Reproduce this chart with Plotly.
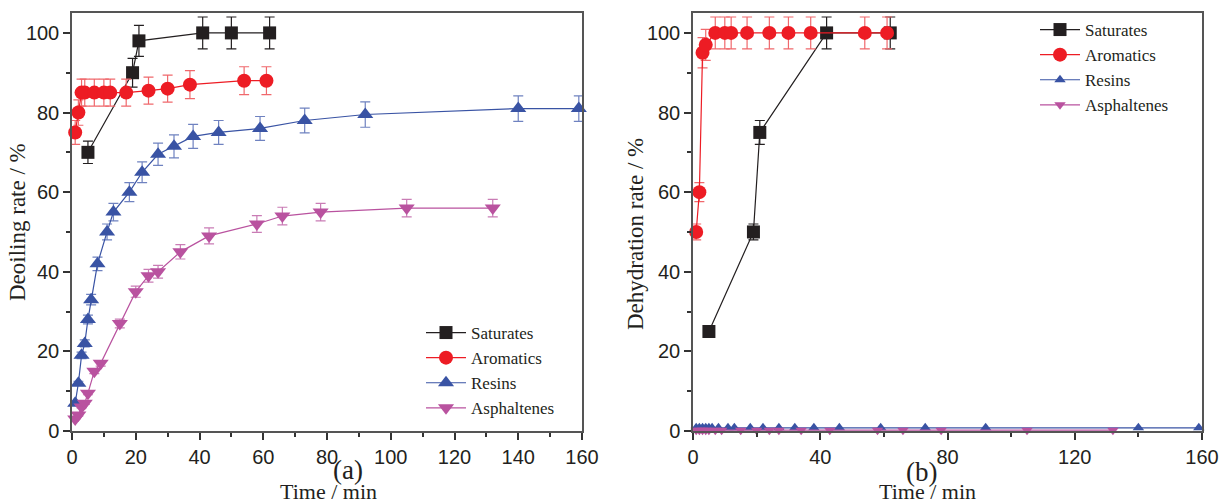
import plotly.graph_objects as go

# ---------------- data ----------------
series_names = ["Saturates", "Aromatics", "Resins", "Asphaltenes"]
colors = ["#231f20", "#ed1c24", "#3953a4", "#b9529f"]
err_colors = ["#231f20", "#f0686c", "#6f82c0", "#c97cb5"]
symbols = ["square", "circle", "triangle-up", "triangle-down"]

# (a) Deoiling rate
sat_t_a = [5, 19, 21, 41, 50, 62]
sat_a = [70, 90, 98, 100, 100, 100]
sat_err_a = [2.8, 3.6, 3.9, 4, 4, 4]

aro_t_a = [1, 2, 3, 4, 7, 10, 12, 17, 24, 30, 37, 54, 61]
aro_a = [75, 80, 85, 85, 85, 85, 85, 85, 85.5, 86, 87, 88, 88]
aro_err_a = [3, 3.2, 3.4, 3.4, 3.4, 3.4, 3.4, 3.4, 3.4, 3.4, 3.5, 3.5, 3.5]

res_t_a = [1, 2, 3, 4, 5, 6, 8, 11, 13, 18, 22, 27, 32, 38, 46, 59, 73, 92, 140, 159]
res_a = [7, 12, 19, 22, 28, 33, 42, 50, 55, 60, 65, 69.5, 71.5, 74, 75, 76, 78, 79.5, 81, 81]
res_err_a = [0.3, 0.5, 0.8, 0.9, 1.1, 1.3, 1.7, 2, 2.2, 2.4, 2.6, 2.8, 2.9, 3, 3, 3, 3.1, 3.2, 3.2, 3.2]

asp_t_a = [1, 2, 3, 4, 5, 7, 9, 15, 20, 24, 27, 34, 43, 58, 66, 78, 105, 132]
asp_a = [3, 4, 6, 7, 9.5, 15, 17, 27, 35, 39, 40, 45, 49, 52, 54, 55, 56, 56]
asp_err_a = [0.1, 0.2, 0.2, 0.3, 0.4, 0.6, 0.7, 1.1, 1.4, 1.6, 1.6, 1.8, 2, 2.1, 2.2, 2.2, 2.2, 2.2]

# (b) Dehydration rate
sat_t_b = [5, 19, 21, 42, 62]
sat_b = [25, 50, 75, 100, 100]
sat_err_b = [1, 2, 3, 4, 4]

aro_t_b = [1, 2, 3, 4, 7, 10, 12, 17, 24, 30, 37, 54, 61]
aro_b = [50, 60, 95, 97, 100, 100, 100, 100, 100, 100, 100, 100, 100]
aro_err_b = [2, 2.4, 3.8, 3.9, 4, 4, 4, 4, 4, 4, 4, 4, 4]

res_t_b = res_t_a
res_b = [0.8] * len(res_t_b)

asp_t_b = asp_t_a
asp_b = [0.2] * len(asp_t_b)

x_ticks_a = [0, 20, 40, 60, 80, 100, 120, 140, 160]
x_ticks_b = [0, 40, 80, 120, 160]
y_ticks = [0, 20, 40, 60, 80, 100]

# ---------------- figure ----------------
fig = go.Figure()

def add(x, y, err, i, xa, ya, legend, msize):
    kw = {}
    if err is not None:
        kw["error_y"] = dict(type="data", array=err, visible=True,
                             color=err_colors[i], thickness=1.2, width=5)
    fig.add_trace(go.Scatter(
        x=x, y=y, mode="lines+markers", name=series_names[i],
        line=dict(color=colors[i], width=1.2),
        marker=dict(symbol=symbols[i], size=msize, color=colors[i],
                    line=dict(width=0)),
        xaxis=xa, yaxis=ya, legend=legend, showlegend=True,
        cliponaxis=False, **kw))

add(sat_t_a, sat_a, sat_err_a, 0, "x", "y", "legend", 13)
add(aro_t_a, aro_a, aro_err_a, 1, "x", "y", "legend", 14)
add(res_t_a, res_a, res_err_a, 2, "x", "y", "legend", 14)
add(asp_t_a, asp_a, asp_err_a, 3, "x", "y", "legend", 14)

add(sat_t_b, sat_b, sat_err_b, 0, "x2", "y2", "legend2", 13)
add(aro_t_b, aro_b, aro_err_b, 1, "x2", "y2", "legend2", 14)
add(res_t_b, res_b, None, 2, "x2", "y2", "legend2", 10)
add(asp_t_b, asp_b, None, 3, "x2", "y2", "legend2", 10)

tickfont = dict(family="Liberation Sans, Arial", size=20, color="#231f20")
axis_common = dict(showgrid=False, zeroline=False, showline=True, automargin=False,
                   linecolor="#555555", linewidth=1.5, mirror=True,
                   ticks="outside", ticklen=7, tickwidth=1.5, tickcolor="#333333",
                   tickfont=tickfont)

W, H = 1219, 504
TOP, BOT = 13, 431          # plot area in page pixels
PH = BOT - TOP

def px(xr):
    return xr / W

def py(yr):
    return (BOT - yr) / PH

legfont = dict(family="Liberation Serif, Times New Roman", size=17, color="#231f20")

fig.update_layout(
    width=W, height=H, autosize=False,
    margin=dict(l=0, r=0, t=TOP, b=H - BOT, pad=0, autoexpand=False),
    paper_bgcolor="white", plot_bgcolor="white",
    xaxis=dict(domain=[px(72), px(582)], range=[0, 160], tickvals=x_ticks_a,
               minor=dict(dtick=10, ticks="outside", ticklen=4, tickcolor="#333333"),
               **axis_common),
    yaxis=dict(range=[0, 105], tickvals=y_ticks, anchor="x",
               minor=dict(dtick=10, ticks="outside", ticklen=4, tickcolor="#333333"),
               **axis_common),
    xaxis2=dict(domain=[px(693), px(1202)], range=[0, 160], tickvals=x_ticks_b, anchor="y2",
                minor=dict(dtick=20, ticks="outside", ticklen=4, tickcolor="#333333"),
                **axis_common),
    yaxis2=dict(range=[0, 105], tickvals=y_ticks, anchor="x2",
                minor=dict(dtick=10, ticks="outside", ticklen=4, tickcolor="#333333"),
                **axis_common),
    legend=dict(x=px(421), y=py(315), xanchor="left", yanchor="top",
                font=legfont, bgcolor="rgba(0,0,0,0)", tracegroupgap=0, itemwidth=40),
    legend2=dict(x=px(1035), y=py(12), xanchor="left", yanchor="top",
                 font=legfont, bgcolor="rgba(0,0,0,0)", tracegroupgap=0, itemwidth=40),
)

serif = dict(family="Liberation Serif, Times New Roman", color="#231f20")
ann = [
    dict(text="Deoiling rate / %", x=17, y=222, textangle=-90, size=23),
    dict(text="Dehydration rate / %", x=636, y=234, textangle=-90, size=23),
    dict(text="(a)", x=348, y=470, textangle=0, size=27),
    dict(text="Time / min", x=328, y=492, textangle=0, size=22),
    dict(text="(b)", x=921, y=472, textangle=0, size=27),
    dict(text="Time / min", x=928, y=492, textangle=0, size=22),
]
for a in ann:
    fig.add_annotation(text=a["text"], xref="paper", yref="paper",
                       x=px(a["x"]), y=py(a["y"]),
                       xanchor="center", yanchor="middle", textangle=a["textangle"],
                       showarrow=False, font=dict(size=a["size"], **serif))

post = (
    "document.body.style.margin='0';"
    "document.body.style.padding='0';"
    "document.body.style.overflow='hidden';"
    "document.documentElement.style.overflow='hidden';"
)
fig.write_html("out.html", config={"responsive": False, "displayModeBar": False},
               post_script=post)
